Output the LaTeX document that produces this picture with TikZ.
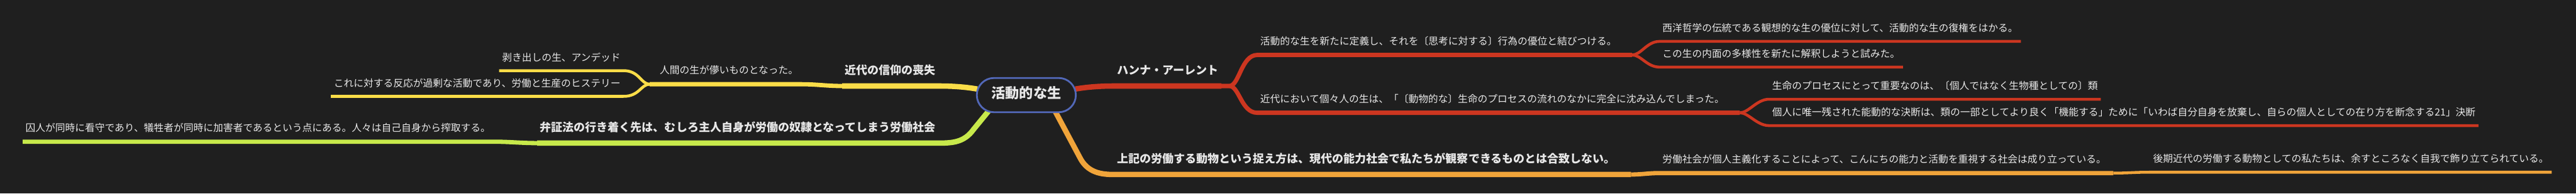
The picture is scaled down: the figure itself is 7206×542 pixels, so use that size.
\documentclass[tikz,border=0pt]{standalone}
\usepackage{fontspec}
\setmainfont{Noto Sans CJK JP}
\definecolor{mapbg}{HTML}{1F1F1F}
\definecolor{maptext}{HTML}{E8E8E8}
\definecolor{rootblue}{HTML}{5268B8}
\definecolor{mapred}{HTML}{CC3620}
\definecolor{mapyellow}{HTML}{FADD48}
\definecolor{mapgreen}{HTML}{C7E94B}
\definecolor{maporange}{HTML}{F0A43A}
\pgfdeclarelayer{canvas}
\pgfdeclarelayer{links}
\pgfsetlayers{canvas,links,main}
\tikzset{
  topic/.style={draw=rootblue, line width=5pt, fill=mapbg, rounded corners=48pt,
    minimum width=277pt, minimum height=96pt, inner sep=0pt, text=maptext,
    font=\bfseries\fontsize{39}{39}\selectfont, text height=34pt, text depth=18pt},
  mtext/.style={text=maptext, inner xsep=8pt, inner ysep=0pt},
  headone/.style={mtext, font=\bfseries\fontsize{31.7}{32}\selectfont, text depth=32pt},
  headtwo/.style={mtext, font=\fontsize{27.7}{28}\selectfont, text depth=28.5pt},
  headthree/.style={mtext, font=\fontsize{27.7}{28}\selectfont, text depth=27pt},
  linkone/.style={line width=15pt},
  linktwo/.style={line width=12pt},
  linkthree/.style={line width=8pt},
}
\begin{document}
\begin{tikzpicture}[x=1pt,y=1pt]
  \useasboundingbox (0,0) rectangle (7206,-542);
  \begin{pgfonlayer}{canvas}
    \fill[mapbg] (0,0) rectangle (7206,-542);
  \end{pgfonlayer}

  % centre
  \node[topic] (core) at (2871,-266.5) {活動的な生};

  % right side
  \node[headone, anchor=south west] (arendt) at (3117,-241) {ハンナ・アーレント};
  \node[headtwo, anchor=south west] (redefine) at (3517,-154) {活動的な生を新たに定義し、それを〔思考に対する〕行為の優位と結びつける。};
  \node[headthree, anchor=south west] (western) at (4642,-116) {西洋哲学の伝統である観想的な生の優位に対して、活動的な生の復権をはかる。};
  \node[headthree, anchor=south west] (inner) at (4642,-188) {この生の内面の多様性を新たに解釈しようと試みた。};
  \node[headtwo, anchor=south west] (modern) at (3517,-316) {近代において個々人の生は、「〔動物的な〕生命のプロセスの流れのなかに完全に沈み込んでしまった。};
  \node[headthree, anchor=south west] (species) at (4949,-278) {生命のプロセスにとって重要なのは、〔個人ではなく生物種としての〕類};
  \node[headthree, anchor=south west] (decision) at (4949,-352) {個人に唯一残された能動的な決断は、類の一部としてより良く「機能する」ために「いわば自分自身を放棄し、自らの個人としての在り方を断念する21」決断};
  \node[headone, anchor=south west] (mismatch) at (3117,-489) {上記の労働する動物という捉え方は、現代の能力社会で私たちが観察できるものとは合致しない。};
  \node[headtwo, anchor=south west] (individual) at (4642,-485) {労働社会が個人主義化することによって、こんにちの能力と活動を重視する社会は成り立っている。};
  \node[headthree, anchor=south west] (adorned) at (6015,-482.5) {後期近代の労働する動物としての私たちは、余すところなく自我で飾り立てられている。};

  % left side
  \node[headone, anchor=south east] (faith) at (2626,-241) {近代の信仰の喪失};
  \node[headtwo, anchor=south east] (transient) at (2241,-236) {人間の生が儚いものとなった。};
  \node[headthree, anchor=south east] (undead) at (1744,-198) {剥き出しの生、アンデッド};
  \node[headthree, anchor=south east] (hysteria) at (1744,-270) {これに対する反応が過剰な活動であり、労働と生産のヒステリー};
  \node[headone, anchor=south east] (dialectic) at (2626,-401) {弁証法の行き着く先は、むしろ主人自身が労働の奴隷となってしまう労働社会};
  \node[headtwo, anchor=south east] (prisoner) at (1380,-397) {囚人が同時に看守であり、犠牲者が同時に加害者であるという点にある。人々は自己自身から搾取する。};

  \begin{pgfonlayer}{links}
    % red
    \draw[linkone, mapred] ([xshift=-4pt,yshift=17pt]core.east) .. controls +(40,7) and +(-30,0) .. (arendt.south west) -- (arendt.south east);
    \draw[linktwo, mapred] (arendt.south east) -- ++(22,0) .. controls +(28,0) and +(-45,0) .. (redefine.south west) -- ([xshift=35pt]redefine.south east);
    \draw[linktwo, mapred] (arendt.south east) -- ++(22,0) .. controls +(28,0) and +(-45,0) .. (modern.south west) -- ([xshift=35pt]modern.south east);
    \draw[linkthree, mapred] ([xshift=35pt]redefine.south east) .. controls +(25,0) and +(-35,0) .. (western.south west) -- (western.south east);
    \draw[linkthree, mapred] ([xshift=35pt]redefine.south east) .. controls +(25,0) and +(-35,0) .. (inner.south west) -- (inner.south east);
    \draw[linkthree, mapred] ([xshift=35pt]modern.south east) .. controls +(25,0) and +(-35,0) .. (species.south west) -- (species.south east);
    \draw[linkthree, mapred] ([xshift=35pt]modern.south east) .. controls +(25,0) and +(-35,0) .. (decision.south west) -- (decision.south east);
    % orange
    \draw[linkone, maporange] ([xshift=77pt,yshift=12pt]core.south) -- ++(72,-135) .. controls +(22,-45) and +(-35,0) .. (mismatch.south west) -- ([xshift=35pt]mismatch.south east);
    \draw[linktwo, maporange] ([xshift=35pt]mismatch.south east) .. controls +(30,0) and +(-30,0) .. (individual.south west) -- ([xshift=12pt]individual.south east);
    \draw[linkthree, maporange] ([xshift=12pt]individual.south east) .. controls +(45,0) and +(-45,0) .. (adorned.south west) -- (adorned.south east);
    % yellow
    \draw[linkone, mapyellow] ([xshift=4pt,yshift=17pt]core.west) .. controls +(-40,7) and +(30,0) .. (faith.south east) -- (faith.south west);
    \draw[linktwo, mapyellow] (faith.south west) .. controls +(-45,0) and +(45,0) .. (transient.south east) -- (transient.south west) -- ++(-20,0);
    \draw[linkthree, mapyellow] ([xshift=-20pt]transient.south west) .. controls +(-25,0) and +(45,0) .. (undead.south east) -- (undead.south west);
    \draw[linkthree, mapyellow] ([xshift=-20pt]transient.south west) .. controls +(-25,0) and +(45,0) .. (hysteria.south east) -- (hysteria.south west);
    % green
    \draw[linkone, mapgreen] ([xshift=-103pt,yshift=9pt]core.south) -- ++(-45,-55) .. controls +(-25,-35) and +(40,0) .. (dialectic.south east) -- (dialectic.south west);
    \draw[linktwo, mapgreen] (dialectic.south west) .. controls +(-45,0) and +(45,0) .. (prisoner.south east) -- (prisoner.south west);
  \end{pgfonlayer}
\end{tikzpicture}
\end{document}
